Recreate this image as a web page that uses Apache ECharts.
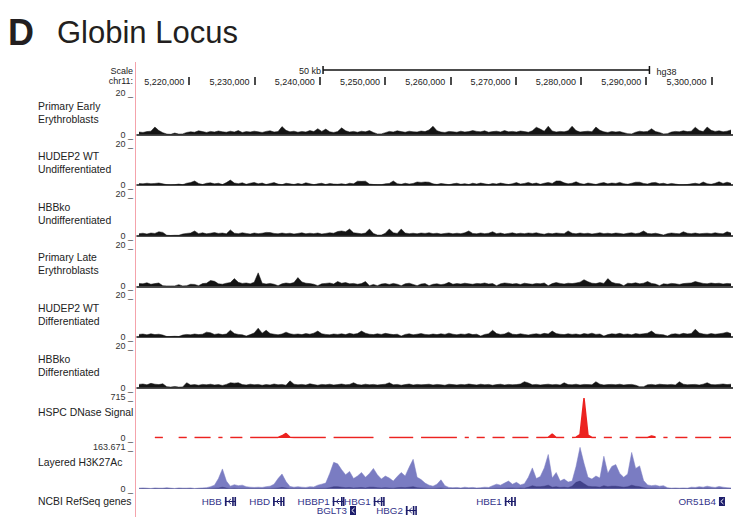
<!DOCTYPE html>
<html><head><meta charset="utf-8">
<script src="https://cdn.jsdelivr.net/npm/echarts@6/dist/echarts.min.js"></script>
<style>html,body{margin:0;padding:0;background:#fff}#c{width:733px;height:517px}</style>
</head><body><div id="c"></div>
<script>
// ---------- data ----------
const REGION_START = 5212000, REGION_END = 5303300;
const rulerTicks = [5220000, 5230000, 5240000, 5250000, 5260000, 5270000, 5280000, 5290000, 5300000];
const scaleBarStart = 5240500, scaleBarBp = 50000;
const scaleBarLabel = '50 kb', assemblyLabel = 'hg38', chromLabel = 'chr11:', scaleWord = 'Scale';
const titleLetter = 'D', titleText = 'Globin Locus';

const trackNames = ['Primary Early\nErythroblasts', 'HUDEP2 WT\nUndifferentiated', 'HBBko\nUndifferentiated',
  'Primary Late\nErythroblasts', 'HUDEP2 WT\nDifferentiated', 'HBBko\nDifferentiated',
  'HSPC DNase Signal', 'Layered H3K27Ac'];
const trackMax = [20, 20, 20, 20, 20, 20, 715, 163.671];
const genesLabel = 'NCBI RefSeq genes';

const primaryEarly = [1.2,1.0,1.4,1.6,3.6,1.9,0.9,0.2,0.1,0.7, 0.2,0.3,1.0,1.3,1.1,1.8,1.4,1.0,1.5,1.2,
 1.7,1.3,1.1,1.6,1.2,1.9,1.0,1.4,1.2,1.6, 1.3,1.0,1.5,1.8,1.2,1.4,3.8,2.0,1.3,1.6,
 1.1,1.5,1.2,1.9,1.4,2.8,1.5,2.6,1.3,1.0, 1.4,3.2,1.8,1.2,1.5,1.1,1.6,1.3,1.9,1.0,
 0.3,0.3,0.9,1.5,1.2,1.8,1.4,1.1,1.6,1.3, 1.2,1.7,1.4,2.2,4.0,1.8,1.2,1.0,1.5,1.3,
 1.1,1.6,1.2,1.4,1.9,1.5,1.3,1.8,1.1,1.4, 1.6,1.2,1.9,1.3,1.5,1.2,1.7,1.4,1.1,1.8,
 3.5,2.6,1.6,4.0,1.7,1.2,1.5,1.3,1.8,4.0, 1.9,1.2,1.4,1.6,1.3,3.6,2.0,1.3,1.0,1.5,
 1.2,1.4,0.9,0.4,0.3,1.1,1.6,1.3,1.5,2.8, 1.4,1.0,0.3,0.4,1.2,1.5,1.3,1.8,1.4,1.6,
 3.5,1.9,1.4,3.6,2.0,1.5,1.8,1.3,1.6,2.2];
const hudepWtUndiff = [0.8,0.6,0.9,0.7,0.8,1.0,0.6,0.2,0.1,0.2, 0.5,0.2,0.9,1.2,2.0,0.8,0.3,0.9,1.1,0.6,
 0.9,0.3,1.2,2.4,1.0,0.7,1.1,0.4,0.9,1.3, 0.6,1.0,0.3,0.8,1.2,0.5,0.2,0.9,0.6,0.3,
 0.8,0.4,1.1,0.7,0.2,0.6,0.9,0.3,0.8,0.5, 0.4,0.7,0.3,0.9,0.6,1.9,1.8,1.9,0.5,0.3,
 0.2,0.2,0.6,0.8,2.0,0.7,0.4,0.9,0.5,0.8, 1.5,1.3,1.5,1.4,0.6,0.3,0.8,0.5,0.2,0.6,
 0.9,0.4,0.7,0.3,0.9,0.5,1.0,0.6,0.3,0.8, 0.5,1.0,0.6,0.3,0.7,1.2,0.5,0.8,1.3,0.6,
 1.0,0.4,0.9,1.3,0.8,2.0,2.0,1.1,0.6,0.9, 1.6,0.8,0.4,1.0,0.7,0.3,0.9,1.2,0.6,1.0,
 0.8,1.3,0.7,0.4,0.9,1.4,1.4,0.8,0.5,1.1, 1.3,0.6,0.9,0.4,0.8,0.5,0.2,0.2,0.3,0.6,
 0.9,0.5,1.5,0.7,0.4,0.9,1.6,0.8,1.4,0.9];
const hbbkoUndiff = [1.0,1.2,0.8,1.3,1.1,1.9,1.6,0.2,0.1,0.2, 0.2,0.8,1.1,1.3,2.3,1.0,1.4,0.9,1.2,1.5,
 1.1,1.3,0.9,2.8,1.2,1.0,1.4,1.1,0.8,1.3, 1.0,1.2,1.6,1.5,1.1,0.9,1.3,1.0,1.2,0.8,
 1.1,1.4,0.9,1.2,1.0,1.3,0.8,1.1,1.4,1.2, 2.0,2.3,1.9,3.2,1.4,1.2,0.9,1.3,3.2,1.1,
 0.3,0.3,1.2,3.2,1.4,1.1,3.2,1.3,1.0,1.2, 0.9,1.3,1.1,1.4,1.0,1.2,0.8,1.1,1.3,0.9,
 1.2,1.0,1.4,2.3,1.1,0.9,1.3,1.0,1.2,1.9, 1.0,1.3,0.8,1.1,1.4,0.9,1.2,1.0,1.3,1.1,
 1.4,1.0,0.7,1.2,0.9,1.3,1.1,1.0,2.3,1.2, 0.9,1.3,1.0,1.2,0.8,1.1,1.4,1.0,1.2,0.9,
 1.3,1.1,0.8,1.2,1.4,1.0,1.3,2.3,1.1,0.9, 1.2,0.8,0.3,1.0,1.3,1.1,0.9,1.9,1.2,1.0,
 1.3,0.9,1.1,1.2,1.0,1.4,1.1,0.9,1.9,1.3];
const primaryLate = [1.4,1.2,1.7,1.0,1.3,1.6,0.3,0.2,0.2,0.2, 0.8,0.2,0.3,1.0,0.9,0.3,1.3,1.5,2.8,2.4,
 1.2,1.0,1.5,1.8,3.7,1.9,1.4,1.6,1.2,2.0, 6.5,1.5,1.1,1.4,1.0,0.3,1.2,1.6,1.3,1.8,
 4.2,2.1,1.5,1.3,1.0,0.3,1.2,1.4,1.6,1.1, 2.3,1.5,1.8,1.2,1.4,1.0,1.3,2.3,0.3,0.9,
 0.3,1.1,1.3,0.9,1.4,1.0,0.3,1.2,1.5,0.9, 0.3,1.1,1.3,0.3,1.0,1.2,0.8,1.1,1.9,1.0,
 1.3,1.1,1.5,1.2,1.0,1.4,1.2,1.6,1.1,1.3, 0.3,1.2,1.6,1.4,1.1,1.3,0.9,1.5,1.2,1.0,
 1.4,1.2,1.6,0.3,1.3,1.8,1.4,1.1,1.5,1.3, 1.6,2.0,3.2,2.2,1.5,1.3,1.8,1.4,3.7,1.9,
 1.4,1.2,0.3,1.5,1.3,1.7,1.2,1.5,2.3,1.4, 1.1,0.3,1.2,1.0,1.4,1.2,0.9,1.3,1.5,1.6,
 2.3,1.8,1.4,1.2,1.6,1.3,1.5,1.1,1.4,1.2];
const hudepWtDiff = [1.2,1.4,1.0,1.5,1.1,1.3,0.9,0.2,0.2,0.3, 0.2,0.9,1.2,1.0,1.4,1.1,1.3,2.3,2.0,1.2,
 1.5,1.1,1.4,3.2,1.6,1.2,1.0,0.4,1.1,1.9, 4.2,1.8,3.2,1.6,1.3,1.0,1.4,2.3,1.5,1.2,
 1.4,1.1,1.6,1.3,1.8,2.8,1.5,1.2,1.0,1.4, 1.2,1.5,1.1,1.7,1.3,1.6,2.8,1.8,1.3,1.1,
 1.5,1.2,1.7,1.4,1.1,1.3,0.4,1.2,1.5,1.0, 1.3,1.6,1.2,1.0,1.4,1.1,1.5,1.2,1.8,1.3,
 1.0,1.4,1.2,1.6,1.1,1.3,0.4,1.2,1.5,3.2, 1.6,1.2,1.4,2.3,1.3,1.1,1.5,1.2,0.9,1.3,
 1.5,1.2,1.7,1.4,2.8,1.6,1.3,1.1,1.5,1.2, 1.4,1.0,1.6,1.3,1.8,1.2,1.4,0.4,1.1,1.5,
 1.3,1.7,1.2,1.4,1.0,1.6,1.3,1.5,1.8,2.8, 1.4,1.2,1.0,0.4,1.3,1.5,1.2,1.7,1.4,1.6,
 3.7,1.9,1.4,1.2,1.6,1.3,1.5,1.8,2.3,1.6];
const hbbkoDiff = [1.5,1.7,1.3,2.0,1.6,1.4,1.8,0.4,0.2,0.5, 0.2,0.3,2.3,1.2,1.4,1.1,1.5,1.3,1.6,1.2,
 1.4,1.0,1.5,2.3,2.1,2.3,1.4,1.2,1.6,1.3, 1.5,1.1,1.4,1.2,1.7,1.3,1.5,1.1,3.2,1.6,
 1.3,1.5,1.2,1.8,1.4,1.1,1.5,1.3,1.6,1.2, 1.4,1.7,1.3,1.5,2.3,1.4,1.2,1.6,1.3,1.5,
 1.2,1.4,1.6,2.3,1.3,1.5,1.1,1.4,1.7,1.2, 1.5,1.3,1.4,1.6,1.2,1.5,1.3,1.1,1.6,1.4,
 1.2,1.5,1.3,1.7,1.4,1.2,1.6,1.3,1.5,1.1, 1.4,1.6,1.2,1.5,1.3,1.4,1.7,2.8,2.2,1.3,
 1.5,1.2,1.4,1.6,1.3,1.5,1.2,2.3,1.4,1.3, 1.6,1.2,1.5,1.4,1.3,2.8,1.6,1.2,1.4,1.5,
 1.3,1.6,1.2,1.4,1.5,1.1,0.4,0.4,1.3,1.5, 1.2,1.6,1.4,1.3,1.5,1.2,2.8,1.6,1.3,1.4,
 1.5,1.2,1.6,2.3,1.4,1.3,1.5,1.7,1.4,1.6];
const n = null;
const dnaseSignal = [n,n,10,n,10,10,10,n,10,n, 10,10,10,n,10,10,10,10,10,n,
 10,10,n,10,10,10,10,n,10,10, 10,10,10,10,10,12,40,80,15,10,
 10,10,10,10,10,10,10,10,n,10, 10,10,10,10,10,10,10,10,10,10,
 n,10,n,10,10,10,10,10,10,10, n,10,10,10,10,10,10,10,10,10,
 10,n,10,10,n,10,10,10,n,10, 10,10,10,n,10,10,10,10,10,n,
 10,10,10,15,70,10,10,10,n,10, 15,60,690,50,10,10,n,10,10,10,
 n,10,10,10,n,10,10,10,10,35, 20,n,10,10,n,10,10,10,10,n,
 10,10,10,10,10,n,10,10,10,10];
const h3k27ac = [2,3,2,1,3,2,2,4,2,1,3,2,2,3,1,2,3,
 4,8,14,40,78,30,10,
 16,12,14,8,6,5,6,5,8,10,18,40,58,28,9,6,8,6,5,8,7,14,18,22,
 60,104,98,75,55,68,40,50,64,45,60,80,55,38,50,42,30,48,64,50,85,116,45,36,22,14,10,18,35,12,5,
 4,5,3,6,4,5,3,4,6,5,
 12,18,14,22,30,18,25,15,20,45,82,40,48,82,135,42,64,30,38,26,30,
 88,163,100,45,38,50,42,128,61,88,95,60,45,58,143,80,90,32,15,12,14,10,12,4,
 2,3,2,3,2,6,5,8,6,10,7,5,9,6,4,3];
const h3k27acOverlap = [1,1,1,0,1,1,1,1,1,0,1,1,1,1,0,1,1,1,1,2,
 3,6,3,1,2,1,1,1,1,1,1,1,1,1,2,3,5,3,1,1,
 1,1,1,1,1,2,2,2,4,8,8,6,4,5,3,4,5,3,6,6,
 4,3,4,3,2,4,5,4,6,8,4,3,2,1,1,2,3,1,1,1,
 1,1,1,1,1,1,1,1,1,1,2,2,2,3,3,2,3,2,6,12,
 8,8,10,14,6,8,5,6,4,10,25,30,20,10,8,8,6,12,8,10,
 10,8,6,8,14,10,8,4,2,2,2,1,2,1,1,1,1,1,1,1,
 1,2,1,2,1,1,2,1,1,1];

const geneNames  = ['HBB', 'HBD', 'HBBP1', 'BGLT3', 'HBG1', 'HBG2', 'HBE1', 'OR51B4'];
const geneStarts = [5225464, 5232838, 5241981, 5244630, 5248269, 5253188, 5268345, 5301150];
const geneEnds   = [5227071, 5234483, 5243657, 5245550, 5249857, 5254781, 5269945, 5302070];
const geneRows   = [0, 0, 0, 1, 0, 1, 0, 0];
const geneExons  = [
  [[5225464,5225726],[5226577,5226799],[5226930,5227071]],
  [[5232838,5233100],[5233950,5234175],[5234355,5234483]],
  [[5241981,5242150],[5243250,5243420],[5243540,5243657]],
  [[5244630,5245550]],
  [[5248269,5248520],[5249350,5249570],[5249700,5249857]],
  [[5253188,5253450],[5254250,5254470],[5254630,5254781]],
  [[5268345,5268600],[5269300,5269520],[5269790,5269945]],
  [[5301150,5302070]]
];

// ---------- layout / style ----------
const FONT = '"Liberation Sans", Arial, Helvetica, sans-serif';
const PLOT_LEFT = 137;
const baselines = [134.5, 185.1, 235.7, 286.3, 336.9, 387.5, 438.1, 488.7];
const TRACK_H = 41.5;
const trackData = [primaryEarly, hudepWtUndiff, hbbkoUndiff, primaryLate, hudepWtDiff, hbbkoDiff, dnaseSignal, h3k27ac];
const trackColor = ['#141414','#141414','#141414','#141414','#141414','#141414','#ec2320','#7a7cc2'];
const geneColor = '#1d1d6b', geneTextColor = '#34348a';

const fmt = v => String(v).replace(/\B(?=(\d{3})+(?!\d))/g, ',');
function binned(values) {
  const step = (REGION_END - REGION_START) / values.length;
  return values.map((v, i) => [REGION_START + (i + 0.5) * step, v]);
}

const grids = [], xAxes = [], yAxes = [], series = [];
const baseX = (extra) => Object.assign({type:'value', min:REGION_START, max:REGION_END, splitLine:{show:false},
  axisLabel:{show:false}, axisTick:{show:false}, axisLine:{show:false}}, extra || {});

// 0: ruler
grids.push({left:PLOT_LEFT, right:0, top:77, height:8});
xAxes.push(baseX({gridIndex:0,
  axisTick:{show:true, inside:true, length:8, customValues:rulerTicks, lineStyle:{color:'#111', width:1.5}},
  axisLabel:{show:true, customValues:rulerTicks, formatter:fmt, align:'right', verticalAlign:'middle',
    margin:-3.5, padding:[0,5,0,0], fontSize:9, lineHeight:9, fontFamily:FONT, color:'#222'}}));
yAxes.push({gridIndex:0, type:'value', show:false});

// tracks 1..8
trackData.forEach((vals, k) => {
  const gi = k + 1;
  grids.push({left:PLOT_LEFT, right:0, top:baselines[k] - TRACK_H, height:TRACK_H});
  xAxes.push(baseX({gridIndex:gi, axisLine:{show:k < 6, onZero:false, lineStyle:{color:'#111', width:1.5}}}));
  yAxes.push({gridIndex:gi, type:'value', min:0, max:trackMax[k], splitLine:{show:false},
    axisLine:{show:false}, axisTick:{show:false},
    axisLabel:{customValues:[0, trackMax[k]], formatter:v => v + ' _', margin:4, fontSize:9, lineHeight:9,
      padding:[0,0,5,0], fontFamily:FONT, color:'#333'}});
  series.push({type:'line', xAxisIndex:gi, yAxisIndex:gi, data:binned(vals), showSymbol:false, silent:true,
    connectNulls:false, lineStyle:{color:trackColor[k], width:k === 6 ? 1.5 : 0.5},
    areaStyle:{color:trackColor[k], opacity:1}});
});
// overlap layer of H3K27Ac
series.push({type:'line', xAxisIndex:8, yAxisIndex:8, data:binned(h3k27acOverlap), showSymbol:false, silent:true,
  lineStyle:{color:'#2a2a72', width:0.5, opacity:0.7}, areaStyle:{color:'#2a2a72', opacity:0.7}});

// 9: genes
grids.push({left:PLOT_LEFT, right:0, top:497, height:18});
xAxes.push(baseX({gridIndex:9}));
yAxes.push({gridIndex:9, type:'value', min:-0.5, max:1.5, inverse:true, show:false});
series.push({type:'custom', xAxisIndex:9, yAxisIndex:9, silent:true, clip:false,
  data: geneNames.map((g, i) => [geneStarts[i], geneEnds[i], geneRows[i], i]),
  renderItem: (params, api) => {
    const i = api.value(3);
    const s = api.coord([api.value(0), api.value(2)]);
    const e = api.coord([api.value(1), api.value(2)]);
    const y = s[1];
    const kids = [{type:'line', shape:{x1:s[0], y1:y, x2:e[0], y2:y}, style:{stroke:geneColor, lineWidth:1}}];
    const ex = geneExons[i];
    ex.forEach(([a, b]) => {
      const pa = api.coord([a, 0])[0], pb = api.coord([b, 0])[0];
      kids.push({type:'rect', shape:{x:pa, y:y - 4.5, width:Math.max(pb - pa, 1.6), height:9}, style:{fill:geneColor}});
    });
    let mx;
    if (ex.length > 1) { mx = (api.coord([ex[0][1], 0])[0] + api.coord([ex[1][0], 0])[0]) / 2; }
    else { mx = (s[0] + e[0]) / 2; }
    kids.push({type:'polyline', shape:{points:[[mx + 1.5, y - 2.5], [mx - 1.2, y], [mx + 1.5, y + 2.5]]},
      style:{stroke: ex.length > 1 ? geneColor : '#fff', lineWidth:1, fill:null}});
    kids.push({type:'text', style:{text:geneNames[i], x:s[0] - 3, y:y, align:'right', verticalAlign:'middle',
      font:'9.8px ' + FONT, fill:geneTextColor}});
    return {type:'group', children:kids};
  }});

// 10: scale bar
grids.push({left:PLOT_LEFT, right:0, top:66, height:8});
xAxes.push(baseX({gridIndex:10}));
yAxes.push({gridIndex:10, type:'value', min:0, max:1, show:false});
series.push({type:'custom', xAxisIndex:10, yAxisIndex:10, silent:true, clip:false,
  data:[[scaleBarStart, scaleBarStart + scaleBarBp]],
  renderItem: (params, api) => {
    const s = api.coord([api.value(0), 0.5]), e = api.coord([api.value(1), 0.5]);
    const y = s[1];
    return {type:'group', children:[
      {type:'line', shape:{x1:s[0], y1:y, x2:e[0], y2:y}, style:{stroke:'#111', lineWidth:1.5}},
      {type:'line', shape:{x1:s[0], y1:y - 4, x2:s[0], y2:y + 4}, style:{stroke:'#111', lineWidth:1.5}},
      {type:'line', shape:{x1:e[0], y1:y - 4, x2:e[0], y2:y + 4}, style:{stroke:'#111', lineWidth:1.5}},
      {type:'text', style:{text:scaleBarLabel, x:s[0] - 2, y:y + 1, align:'right', verticalAlign:'middle', font:'9px ' + FONT, fill:'#222', lineHeight:9}},
      {type:'text', style:{text:assemblyLabel, x:e[0] + 7, y:y + 1.5, align:'left', verticalAlign:'middle', font:'9px ' + FONT, fill:'#222', lineHeight:9}}
    ]};
  }});

// static graphics: titles, left labels, separator
const graphics = [
  {type:'text', x:8, y:32.5, style:{text:titleLetter, font:'bold 36px ' + FONT, fill:'#231f20', verticalAlign:'middle'}},
  {type:'text', x:57, y:32, style:{text:titleText, font:'31px ' + FONT, fill:'#231f20', verticalAlign:'middle'}},
  {type:'text', x:133, y:71, style:{text:scaleWord, font:'9px ' + FONT, fill:'#222', align:'right', verticalAlign:'middle', lineHeight:9}},
  {type:'text', x:133, y:81, style:{text:chromLabel, font:'9px ' + FONT, fill:'#222', align:'right', verticalAlign:'middle', lineHeight:9}},
  {type:'line', shape:{x1:135.5, y1:62, x2:135.5, y2:517}, style:{stroke:'#f4a3ab', lineWidth:1}, silent:true},
  {type:'text', x:38, y:501, style:{text:genesLabel, font:'10.4px ' + FONT, fill:'#222', verticalAlign:'middle'}}
];
trackNames.forEach((t, k) => {
  const twoLine = t.indexOf('\n') >= 0;
  graphics.push({type:'text', x:38, y:baselines[k] - (twoLine ? 22 : 26),
    style:{text:t, font:'10.4px ' + FONT, fill:'#222', verticalAlign:'middle', lineHeight:13}});
});

const chart = echarts.init(document.getElementById('c'), null, {renderer:'svg'});
chart.setOption({animation:false, backgroundColor:'#fff', grid:grids, xAxis:xAxes, yAxis:yAxes, series:series, graphic:graphics});
</script></body></html>
